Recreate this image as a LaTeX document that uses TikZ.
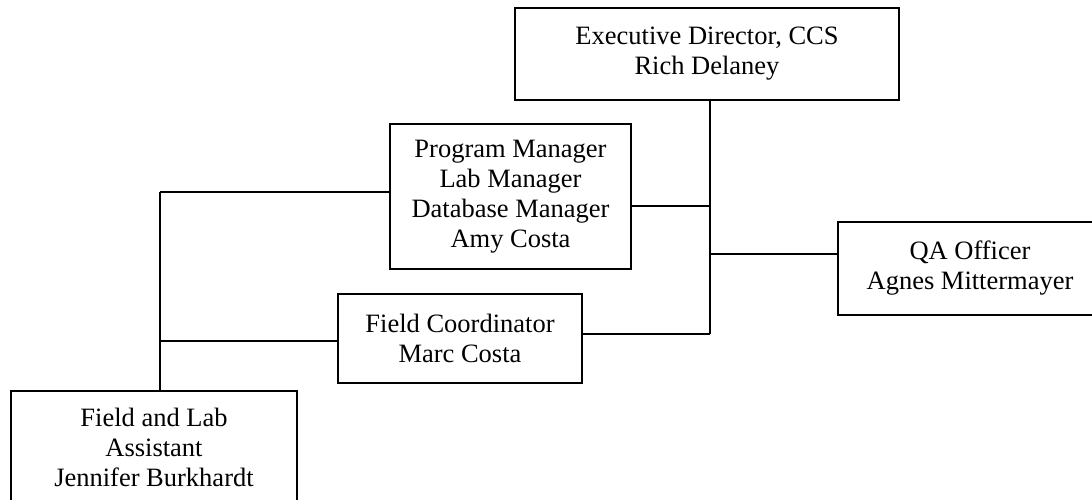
\documentclass[tikz,border=0pt]{standalone}
\usepackage{fontspec}
\setmainfont{Liberation Serif}
\usepackage{tikz}
\usetikzlibrary{positioning,calc}

\begin{document}
\begin{tikzpicture}[x=0.5pt,y=-0.5pt,line width=1.1pt,
    post/.style={draw,rectangle,align=center,inner sep=2pt,
      font=\fontsize{13.25}{15}\selectfont}]
        \useasboundingbox (0,0) rectangle (1092,499);
        \node[post,minimum width=192pt,minimum height=46pt](ED) at (707,54) {Executive Director, CCS\\Rich Delaney};
        \node[post,minimum width=120.5pt,minimum height=72.5pt](PM) at (510.5,196.5) {Program Manager\\Lab Manager\\Database Manager\\Amy Costa};
        \node[post,minimum width=132pt,minimum height=46.5pt](QA) at (970,268.5) {QA Officer\\Agnes Mittermayer};
        \node[post,minimum width=122pt,minimum height=44.5pt](FC) at (460,338.5) {Field Coordinator\\Marc Costa};
        \node[post,minimum width=143pt,minimum height=56.5pt](FLA) at (154,447.5) {Field and Lab\\Assistant\\Jennifer Burkhardt};

        \coordinate(jPM) at (710,206);
        \coordinate(jQA) at (710,254);
        \coordinate(jFC) at (710,334);
        \coordinate(lPM) at (160,192);
        \coordinate(lFC) at (160,341);

        \begin{scope}
          \draw (ED.south -| jPM) -- (jFC);
          \draw
          (jPM) edge (PM.east |- jPM)
          (jQA) edge (QA.west |- jQA)
          (jFC) edge (FC.east |- jFC);
          \draw (lPM) -- (FLA.north -| lPM);
          \draw
          (lPM) edge (PM.west |- lPM)
          (lFC) edge (FC.west |- lFC);
        \end{scope}
      \end{tikzpicture}
\end{document}
